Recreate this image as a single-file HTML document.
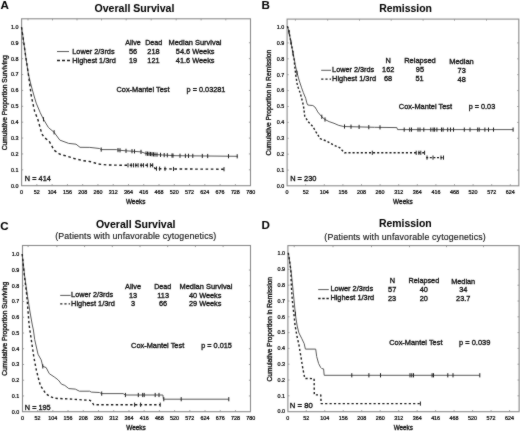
<!DOCTYPE html>
<html><head><meta charset="utf-8"><style>
html,body{margin:0;padding:0;background:#fff;}
svg{display:block;}
text{font-family:"Liberation Sans", sans-serif;fill:#161616;stroke:#161616;stroke-width:0.35px;}
text.b{stroke-width:0.05px;fill:#050505;stroke:#050505;}
text.s{stroke-width:0.15px;}
text.t{stroke-width:0.22px;fill:#000;stroke:#000;}
</style></head><body><div id="w">
<svg width="520" height="431" viewBox="0 0 520 431">
<defs><filter id="bl" filterUnits="userSpaceOnUse" x="0" y="0" width="520" height="431" color-interpolation-filters="sRGB"><feConvolveMatrix order="3" kernelMatrix="1 2 1 2 28 2 1 2 1" divisor="40" edgeMode="duplicate"/></filter></defs>
<rect width="520" height="431" fill="#fff"/>
<g filter="url(#bl)">
<rect x="21.60" y="18.80" width="228.90" height="166.90" fill="none" stroke="#8c8c8c" stroke-width="1.1"/>
<text x="18.40" y="187.55" font-size="5.4" text-anchor="end" class="t">0.0</text>
<text x="18.40" y="171.67" font-size="5.4" text-anchor="end" class="t">0.1</text>
<line x1="21.60" y1="169.82" x2="23.20" y2="169.82" stroke="#8c8c8c" stroke-width="0.8"/>
<line x1="250.50" y1="169.82" x2="248.90" y2="169.82" stroke="#8c8c8c" stroke-width="0.8"/>
<text x="18.40" y="155.79" font-size="5.4" text-anchor="end" class="t">0.2</text>
<line x1="21.60" y1="153.94" x2="23.20" y2="153.94" stroke="#8c8c8c" stroke-width="0.8"/>
<line x1="250.50" y1="153.94" x2="248.90" y2="153.94" stroke="#8c8c8c" stroke-width="0.8"/>
<text x="18.40" y="139.91" font-size="5.4" text-anchor="end" class="t">0.3</text>
<line x1="21.60" y1="138.06" x2="23.20" y2="138.06" stroke="#8c8c8c" stroke-width="0.8"/>
<line x1="250.50" y1="138.06" x2="248.90" y2="138.06" stroke="#8c8c8c" stroke-width="0.8"/>
<text x="18.40" y="124.03" font-size="5.4" text-anchor="end" class="t">0.4</text>
<line x1="21.60" y1="122.18" x2="23.20" y2="122.18" stroke="#8c8c8c" stroke-width="0.8"/>
<line x1="250.50" y1="122.18" x2="248.90" y2="122.18" stroke="#8c8c8c" stroke-width="0.8"/>
<text x="18.40" y="108.15" font-size="5.4" text-anchor="end" class="t">0.5</text>
<line x1="21.60" y1="106.30" x2="23.20" y2="106.30" stroke="#8c8c8c" stroke-width="0.8"/>
<line x1="250.50" y1="106.30" x2="248.90" y2="106.30" stroke="#8c8c8c" stroke-width="0.8"/>
<text x="18.40" y="92.27" font-size="5.4" text-anchor="end" class="t">0.6</text>
<line x1="21.60" y1="90.42" x2="23.20" y2="90.42" stroke="#8c8c8c" stroke-width="0.8"/>
<line x1="250.50" y1="90.42" x2="248.90" y2="90.42" stroke="#8c8c8c" stroke-width="0.8"/>
<text x="18.40" y="76.39" font-size="5.4" text-anchor="end" class="t">0.7</text>
<line x1="21.60" y1="74.54" x2="23.20" y2="74.54" stroke="#8c8c8c" stroke-width="0.8"/>
<line x1="250.50" y1="74.54" x2="248.90" y2="74.54" stroke="#8c8c8c" stroke-width="0.8"/>
<text x="18.40" y="60.51" font-size="5.4" text-anchor="end" class="t">0.8</text>
<line x1="21.60" y1="58.66" x2="23.20" y2="58.66" stroke="#8c8c8c" stroke-width="0.8"/>
<line x1="250.50" y1="58.66" x2="248.90" y2="58.66" stroke="#8c8c8c" stroke-width="0.8"/>
<text x="18.40" y="44.63" font-size="5.4" text-anchor="end" class="t">0.9</text>
<line x1="21.60" y1="42.78" x2="23.20" y2="42.78" stroke="#8c8c8c" stroke-width="0.8"/>
<line x1="250.50" y1="42.78" x2="248.90" y2="42.78" stroke="#8c8c8c" stroke-width="0.8"/>
<text x="18.40" y="28.75" font-size="5.4" text-anchor="end" class="t">1.0</text>
<text x="21.60" y="193.60" font-size="5.4" text-anchor="middle" class="t">0</text>
<text x="36.87" y="193.60" font-size="5.4" text-anchor="middle" class="t">52</text>
<line x1="36.87" y1="185.70" x2="36.87" y2="184.10" stroke="#8c8c8c" stroke-width="0.8"/>
<text x="52.14" y="193.60" font-size="5.4" text-anchor="middle" class="t">104</text>
<line x1="52.14" y1="185.70" x2="52.14" y2="184.10" stroke="#8c8c8c" stroke-width="0.8"/>
<text x="67.41" y="193.60" font-size="5.4" text-anchor="middle" class="t">156</text>
<line x1="67.41" y1="185.70" x2="67.41" y2="184.10" stroke="#8c8c8c" stroke-width="0.8"/>
<text x="82.68" y="193.60" font-size="5.4" text-anchor="middle" class="t">208</text>
<line x1="82.68" y1="185.70" x2="82.68" y2="184.10" stroke="#8c8c8c" stroke-width="0.8"/>
<text x="97.95" y="193.60" font-size="5.4" text-anchor="middle" class="t">260</text>
<line x1="97.95" y1="185.70" x2="97.95" y2="184.10" stroke="#8c8c8c" stroke-width="0.8"/>
<text x="113.22" y="193.60" font-size="5.4" text-anchor="middle" class="t">312</text>
<line x1="113.22" y1="185.70" x2="113.22" y2="184.10" stroke="#8c8c8c" stroke-width="0.8"/>
<text x="128.49" y="193.60" font-size="5.4" text-anchor="middle" class="t">364</text>
<line x1="128.49" y1="185.70" x2="128.49" y2="184.10" stroke="#8c8c8c" stroke-width="0.8"/>
<text x="143.76" y="193.60" font-size="5.4" text-anchor="middle" class="t">416</text>
<line x1="143.76" y1="185.70" x2="143.76" y2="184.10" stroke="#8c8c8c" stroke-width="0.8"/>
<text x="159.03" y="193.60" font-size="5.4" text-anchor="middle" class="t">468</text>
<line x1="159.03" y1="185.70" x2="159.03" y2="184.10" stroke="#8c8c8c" stroke-width="0.8"/>
<text x="174.30" y="193.60" font-size="5.4" text-anchor="middle" class="t">520</text>
<line x1="174.30" y1="185.70" x2="174.30" y2="184.10" stroke="#8c8c8c" stroke-width="0.8"/>
<text x="189.57" y="193.60" font-size="5.4" text-anchor="middle" class="t">572</text>
<line x1="189.57" y1="185.70" x2="189.57" y2="184.10" stroke="#8c8c8c" stroke-width="0.8"/>
<text x="204.84" y="193.60" font-size="5.4" text-anchor="middle" class="t">624</text>
<line x1="204.84" y1="185.70" x2="204.84" y2="184.10" stroke="#8c8c8c" stroke-width="0.8"/>
<text x="220.11" y="193.60" font-size="5.4" text-anchor="middle" class="t">676</text>
<line x1="220.11" y1="185.70" x2="220.11" y2="184.10" stroke="#8c8c8c" stroke-width="0.8"/>
<text x="235.38" y="193.60" font-size="5.4" text-anchor="middle" class="t">728</text>
<line x1="235.38" y1="185.70" x2="235.38" y2="184.10" stroke="#8c8c8c" stroke-width="0.8"/>
<text x="250.65" y="193.60" font-size="5.4" text-anchor="middle" class="t">780</text>
<line x1="28.00" y1="18.80" x2="28.00" y2="20.40" stroke="#8c8c8c" stroke-width="0.8"/>
<line x1="52.50" y1="18.80" x2="52.50" y2="20.40" stroke="#8c8c8c" stroke-width="0.8"/>
<line x1="77.00" y1="18.80" x2="77.00" y2="20.40" stroke="#8c8c8c" stroke-width="0.8"/>
<line x1="101.50" y1="18.80" x2="101.50" y2="20.40" stroke="#8c8c8c" stroke-width="0.8"/>
<line x1="126.20" y1="18.80" x2="126.20" y2="20.40" stroke="#8c8c8c" stroke-width="0.8"/>
<line x1="151.20" y1="18.80" x2="151.20" y2="20.40" stroke="#8c8c8c" stroke-width="0.8"/>
<line x1="176.20" y1="18.80" x2="176.20" y2="20.40" stroke="#8c8c8c" stroke-width="0.8"/>
<line x1="201.10" y1="18.80" x2="201.10" y2="20.40" stroke="#8c8c8c" stroke-width="0.8"/>
<line x1="225.80" y1="18.80" x2="225.80" y2="20.40" stroke="#8c8c8c" stroke-width="0.8"/>
<text x="0.60" y="9.00" font-size="11.6" font-weight="bold" class="b">A</text>
<text x="94.50" y="12.20" font-size="10.5" font-weight="bold" class="b" textLength="79.90" lengthAdjust="spacingAndGlyphs">Overall Survival</text>
<text transform="translate(6.50,150.20) rotate(-90)" x="0" y="0" font-size="7.0" textLength="94.80" lengthAdjust="spacingAndGlyphs">Cumulative Proportion Surviving</text>
<text x="125.90" y="204.10" font-size="7.0" textLength="19.50" lengthAdjust="spacingAndGlyphs">Weeks</text>
<text x="24.80" y="181.20" font-size="7.3" textLength="26.00" lengthAdjust="spacing">N = 414</text>
<line x1="57.00" y1="51.55" x2="69.00" y2="51.55" stroke="#5a5a5a" stroke-width="1"/>
<text x="72.30" y="54.20" font-size="7.35" textLength="42.30" lengthAdjust="spacingAndGlyphs">Lower 2/3rds</text>
<line x1="57.00" y1="60.50" x2="70.00" y2="60.50" stroke="#1e1e1e" stroke-width="1.3" stroke-dasharray="3 2"/>
<text x="72.30" y="62.80" font-size="7.35" textLength="43.50" lengthAdjust="spacingAndGlyphs">Highest 1/3rd</text>
<text x="125.30" y="44.50" font-size="7.35" textLength="15.40" lengthAdjust="spacingAndGlyphs">Alive</text>
<text x="145.20" y="44.50" font-size="7.35" textLength="17.10" lengthAdjust="spacingAndGlyphs">Dead</text>
<text x="168.50" y="44.50" font-size="7.35" textLength="53.00" lengthAdjust="spacingAndGlyphs">Median Survival</text>
<text x="133.00" y="53.70" font-size="7.35" text-anchor="middle">56</text>
<text x="153.50" y="53.70" font-size="7.35" text-anchor="middle">218</text>
<text x="195.20" y="53.70" font-size="7.35" text-anchor="middle">54.6 Weeks</text>
<text x="133.10" y="62.50" font-size="7.35" text-anchor="middle">19</text>
<text x="153.50" y="62.50" font-size="7.35" text-anchor="middle">121</text>
<text x="195.20" y="62.50" font-size="7.35" text-anchor="middle">41.6 Weeks</text>
<text x="116.50" y="91.50" font-size="7.35" textLength="53.00" lengthAdjust="spacingAndGlyphs">Cox-Mantel Test</text>
<text x="186.60" y="91.50" font-size="7.35" textLength="38.80" lengthAdjust="spacingAndGlyphs">p = 0.03281</text>
<polyline points="21.50,27.10 23.00,37.00 25.50,55.00 28.40,74.30 31.00,85.00 33.80,95.00 36.20,103.10 40.30,112.80 43.50,119.30 48.40,127.50 54.10,132.30 59.80,140.10 68.70,143.40 76.00,144.20 80.00,147.30 89.80,147.40 99.50,148.50 101.20,149.60 116.50,149.60 118.00,150.10 125.80,150.80 132.00,151.20 141.20,151.90 145.80,153.50 155.00,154.50 162.70,155.00 175.00,155.70 237.70,156.30" fill="none" stroke="#5a5a5a" stroke-width="1" stroke-linejoin="round"/>
<polyline points="21.50,27.10 23.00,37.00 25.50,55.00 28.40,74.30 31.40,96.60 34.60,111.20 37.80,119.30 41.90,134.00 44.30,137.50 49.20,141.20 54.10,150.20 59.80,154.20 67.10,156.30 75.20,158.80 83.30,160.70 89.80,161.50 95.00,163.00 97.90,164.00 107.30,165.00 125.80,165.30 153.50,165.30 155.00,168.60 175.00,169.00 224.60,169.20" fill="none" stroke="#1e1e1e" stroke-width="1.4" stroke-dasharray="2.6 2.6" stroke-linejoin="round"/>
<line x1="43.50" y1="117.20" x2="43.50" y2="121.40" stroke="#222" stroke-width="1.0"/>
<line x1="54.10" y1="130.20" x2="54.10" y2="134.40" stroke="#222" stroke-width="1.0"/>
<line x1="101.20" y1="147.50" x2="101.20" y2="151.70" stroke="#222" stroke-width="1.0"/>
<line x1="118.00" y1="148.00" x2="118.00" y2="152.20" stroke="#222" stroke-width="1.0"/>
<line x1="120.00" y1="148.18" x2="120.00" y2="152.38" stroke="#222" stroke-width="1.0"/>
<line x1="126.00" y1="148.71" x2="126.00" y2="152.91" stroke="#222" stroke-width="1.0"/>
<line x1="132.00" y1="149.10" x2="132.00" y2="153.30" stroke="#222" stroke-width="1.0"/>
<line x1="134.50" y1="149.29" x2="134.50" y2="153.49" stroke="#222" stroke-width="1.0"/>
<line x1="141.00" y1="149.78" x2="141.00" y2="153.98" stroke="#222" stroke-width="1.0"/>
<line x1="146.00" y1="151.42" x2="146.00" y2="155.62" stroke="#222" stroke-width="1.0"/>
<line x1="147.50" y1="151.58" x2="147.50" y2="155.78" stroke="#222" stroke-width="1.0"/>
<line x1="149.00" y1="151.75" x2="149.00" y2="155.95" stroke="#222" stroke-width="1.0"/>
<line x1="150.50" y1="151.91" x2="150.50" y2="156.11" stroke="#222" stroke-width="1.0"/>
<line x1="152.00" y1="152.07" x2="152.00" y2="156.27" stroke="#222" stroke-width="1.0"/>
<line x1="153.50" y1="152.24" x2="153.50" y2="156.44" stroke="#222" stroke-width="1.0"/>
<line x1="155.00" y1="152.40" x2="155.00" y2="156.60" stroke="#222" stroke-width="1.0"/>
<line x1="157.00" y1="152.53" x2="157.00" y2="156.73" stroke="#222" stroke-width="1.0"/>
<line x1="160.50" y1="152.76" x2="160.50" y2="156.96" stroke="#222" stroke-width="1.0"/>
<line x1="164.20" y1="152.99" x2="164.20" y2="157.19" stroke="#222" stroke-width="1.0"/>
<line x1="167.30" y1="153.16" x2="167.30" y2="157.36" stroke="#222" stroke-width="1.0"/>
<line x1="172.00" y1="153.43" x2="172.00" y2="157.63" stroke="#222" stroke-width="1.0"/>
<line x1="173.00" y1="153.49" x2="173.00" y2="157.69" stroke="#222" stroke-width="1.0"/>
<line x1="180.00" y1="153.65" x2="180.00" y2="157.85" stroke="#222" stroke-width="1.0"/>
<line x1="185.40" y1="153.70" x2="185.40" y2="157.90" stroke="#222" stroke-width="1.0"/>
<line x1="188.50" y1="153.73" x2="188.50" y2="157.93" stroke="#222" stroke-width="1.0"/>
<line x1="192.80" y1="153.77" x2="192.80" y2="157.97" stroke="#222" stroke-width="1.0"/>
<line x1="202.30" y1="153.86" x2="202.30" y2="158.06" stroke="#222" stroke-width="1.0"/>
<line x1="207.70" y1="153.91" x2="207.70" y2="158.11" stroke="#222" stroke-width="1.0"/>
<line x1="228.50" y1="154.11" x2="228.50" y2="158.31" stroke="#222" stroke-width="1.0"/>
<line x1="237.20" y1="154.20" x2="237.20" y2="158.40" stroke="#222" stroke-width="1.0"/>
<line x1="128.00" y1="163.20" x2="128.00" y2="167.40" stroke="#222" stroke-width="1.0"/>
<line x1="131.20" y1="163.20" x2="131.20" y2="167.40" stroke="#222" stroke-width="1.0"/>
<line x1="133.50" y1="163.20" x2="133.50" y2="167.40" stroke="#222" stroke-width="1.0"/>
<line x1="135.80" y1="163.20" x2="135.80" y2="167.40" stroke="#222" stroke-width="1.0"/>
<line x1="138.10" y1="163.20" x2="138.10" y2="167.40" stroke="#222" stroke-width="1.0"/>
<line x1="141.20" y1="163.20" x2="141.20" y2="167.40" stroke="#222" stroke-width="1.0"/>
<line x1="143.50" y1="163.20" x2="143.50" y2="167.40" stroke="#222" stroke-width="1.0"/>
<line x1="147.30" y1="163.20" x2="147.30" y2="167.40" stroke="#222" stroke-width="1.0"/>
<line x1="150.40" y1="163.20" x2="150.40" y2="167.40" stroke="#222" stroke-width="1.0"/>
<line x1="152.70" y1="163.20" x2="152.70" y2="167.40" stroke="#222" stroke-width="1.0"/>
<line x1="156.50" y1="166.53" x2="156.50" y2="170.73" stroke="#222" stroke-width="1.0"/>
<line x1="159.60" y1="166.59" x2="159.60" y2="170.79" stroke="#222" stroke-width="1.0"/>
<line x1="165.00" y1="166.70" x2="165.00" y2="170.90" stroke="#222" stroke-width="1.0"/>
<line x1="173.50" y1="166.87" x2="173.50" y2="171.07" stroke="#222" stroke-width="1.0"/>
<line x1="224.00" y1="167.10" x2="224.00" y2="171.30" stroke="#222" stroke-width="1.0"/>
<rect x="287.10" y="19.10" width="231.70" height="166.70" fill="none" stroke="#8c8c8c" stroke-width="1.1"/>
<text x="284.20" y="187.85" font-size="5.4" text-anchor="end" class="t">0.0</text>
<text x="284.20" y="171.95" font-size="5.4" text-anchor="end" class="t">0.1</text>
<line x1="287.10" y1="170.10" x2="288.70" y2="170.10" stroke="#8c8c8c" stroke-width="0.8"/>
<line x1="518.80" y1="170.10" x2="517.20" y2="170.10" stroke="#8c8c8c" stroke-width="0.8"/>
<text x="284.20" y="156.05" font-size="5.4" text-anchor="end" class="t">0.2</text>
<line x1="287.10" y1="154.20" x2="288.70" y2="154.20" stroke="#8c8c8c" stroke-width="0.8"/>
<line x1="518.80" y1="154.20" x2="517.20" y2="154.20" stroke="#8c8c8c" stroke-width="0.8"/>
<text x="284.20" y="140.15" font-size="5.4" text-anchor="end" class="t">0.3</text>
<line x1="287.10" y1="138.30" x2="288.70" y2="138.30" stroke="#8c8c8c" stroke-width="0.8"/>
<line x1="518.80" y1="138.30" x2="517.20" y2="138.30" stroke="#8c8c8c" stroke-width="0.8"/>
<text x="284.20" y="124.25" font-size="5.4" text-anchor="end" class="t">0.4</text>
<line x1="287.10" y1="122.40" x2="288.70" y2="122.40" stroke="#8c8c8c" stroke-width="0.8"/>
<line x1="518.80" y1="122.40" x2="517.20" y2="122.40" stroke="#8c8c8c" stroke-width="0.8"/>
<text x="284.20" y="108.35" font-size="5.4" text-anchor="end" class="t">0.5</text>
<line x1="287.10" y1="106.50" x2="288.70" y2="106.50" stroke="#8c8c8c" stroke-width="0.8"/>
<line x1="518.80" y1="106.50" x2="517.20" y2="106.50" stroke="#8c8c8c" stroke-width="0.8"/>
<text x="284.20" y="92.45" font-size="5.4" text-anchor="end" class="t">0.6</text>
<line x1="287.10" y1="90.60" x2="288.70" y2="90.60" stroke="#8c8c8c" stroke-width="0.8"/>
<line x1="518.80" y1="90.60" x2="517.20" y2="90.60" stroke="#8c8c8c" stroke-width="0.8"/>
<text x="284.20" y="76.55" font-size="5.4" text-anchor="end" class="t">0.7</text>
<line x1="287.10" y1="74.70" x2="288.70" y2="74.70" stroke="#8c8c8c" stroke-width="0.8"/>
<line x1="518.80" y1="74.70" x2="517.20" y2="74.70" stroke="#8c8c8c" stroke-width="0.8"/>
<text x="284.20" y="60.65" font-size="5.4" text-anchor="end" class="t">0.8</text>
<line x1="287.10" y1="58.80" x2="288.70" y2="58.80" stroke="#8c8c8c" stroke-width="0.8"/>
<line x1="518.80" y1="58.80" x2="517.20" y2="58.80" stroke="#8c8c8c" stroke-width="0.8"/>
<text x="284.20" y="44.75" font-size="5.4" text-anchor="end" class="t">0.9</text>
<line x1="287.10" y1="42.90" x2="288.70" y2="42.90" stroke="#8c8c8c" stroke-width="0.8"/>
<line x1="518.80" y1="42.90" x2="517.20" y2="42.90" stroke="#8c8c8c" stroke-width="0.8"/>
<text x="284.20" y="28.85" font-size="5.4" text-anchor="end" class="t">1.0</text>
<text x="287.10" y="193.70" font-size="5.4" text-anchor="middle" class="t">0</text>
<text x="305.70" y="193.70" font-size="5.4" text-anchor="middle" class="t">52</text>
<line x1="305.70" y1="185.80" x2="305.70" y2="184.20" stroke="#8c8c8c" stroke-width="0.8"/>
<text x="324.30" y="193.70" font-size="5.4" text-anchor="middle" class="t">104</text>
<line x1="324.30" y1="185.80" x2="324.30" y2="184.20" stroke="#8c8c8c" stroke-width="0.8"/>
<text x="342.90" y="193.70" font-size="5.4" text-anchor="middle" class="t">156</text>
<line x1="342.90" y1="185.80" x2="342.90" y2="184.20" stroke="#8c8c8c" stroke-width="0.8"/>
<text x="361.50" y="193.70" font-size="5.4" text-anchor="middle" class="t">208</text>
<line x1="361.50" y1="185.80" x2="361.50" y2="184.20" stroke="#8c8c8c" stroke-width="0.8"/>
<text x="380.10" y="193.70" font-size="5.4" text-anchor="middle" class="t">260</text>
<line x1="380.10" y1="185.80" x2="380.10" y2="184.20" stroke="#8c8c8c" stroke-width="0.8"/>
<text x="398.70" y="193.70" font-size="5.4" text-anchor="middle" class="t">312</text>
<line x1="398.70" y1="185.80" x2="398.70" y2="184.20" stroke="#8c8c8c" stroke-width="0.8"/>
<text x="417.30" y="193.70" font-size="5.4" text-anchor="middle" class="t">364</text>
<line x1="417.30" y1="185.80" x2="417.30" y2="184.20" stroke="#8c8c8c" stroke-width="0.8"/>
<text x="435.90" y="193.70" font-size="5.4" text-anchor="middle" class="t">416</text>
<line x1="435.90" y1="185.80" x2="435.90" y2="184.20" stroke="#8c8c8c" stroke-width="0.8"/>
<text x="454.50" y="193.70" font-size="5.4" text-anchor="middle" class="t">468</text>
<line x1="454.50" y1="185.80" x2="454.50" y2="184.20" stroke="#8c8c8c" stroke-width="0.8"/>
<text x="473.10" y="193.70" font-size="5.4" text-anchor="middle" class="t">520</text>
<line x1="473.10" y1="185.80" x2="473.10" y2="184.20" stroke="#8c8c8c" stroke-width="0.8"/>
<text x="491.70" y="193.70" font-size="5.4" text-anchor="middle" class="t">572</text>
<line x1="491.70" y1="185.80" x2="491.70" y2="184.20" stroke="#8c8c8c" stroke-width="0.8"/>
<text x="510.30" y="193.70" font-size="5.4" text-anchor="middle" class="t">624</text>
<line x1="510.30" y1="185.80" x2="510.30" y2="184.20" stroke="#8c8c8c" stroke-width="0.8"/>
<line x1="295.40" y1="19.10" x2="295.40" y2="20.70" stroke="#8c8c8c" stroke-width="0.8"/>
<line x1="327.70" y1="19.10" x2="327.70" y2="20.70" stroke="#8c8c8c" stroke-width="0.8"/>
<line x1="359.50" y1="19.10" x2="359.50" y2="20.70" stroke="#8c8c8c" stroke-width="0.8"/>
<line x1="391.20" y1="19.10" x2="391.20" y2="20.70" stroke="#8c8c8c" stroke-width="0.8"/>
<line x1="423.10" y1="19.10" x2="423.10" y2="20.70" stroke="#8c8c8c" stroke-width="0.8"/>
<line x1="454.50" y1="19.10" x2="454.50" y2="20.70" stroke="#8c8c8c" stroke-width="0.8"/>
<line x1="486.50" y1="19.10" x2="486.50" y2="20.70" stroke="#8c8c8c" stroke-width="0.8"/>
<text x="261.50" y="9.00" font-size="11.6" font-weight="bold" class="b">B</text>
<text x="379.20" y="12.00" font-size="10.5" font-weight="bold" class="b" textLength="52.80" lengthAdjust="spacingAndGlyphs">Remission</text>
<text transform="translate(271.30,155.60) rotate(-90)" x="0" y="0" font-size="7.0" textLength="105.80" lengthAdjust="spacingAndGlyphs">Cumulative Proportion in Remission</text>
<text x="393.10" y="203.70" font-size="7.0" textLength="19.60" lengthAdjust="spacingAndGlyphs">Weeks</text>
<text x="290.20" y="181.20" font-size="7.4" textLength="26.20" lengthAdjust="spacingAndGlyphs">N = 230</text>
<line x1="321.20" y1="70.30" x2="331.00" y2="70.30" stroke="#5a5a5a" stroke-width="1"/>
<text x="332.10" y="72.30" font-size="7.35" textLength="42.10" lengthAdjust="spacingAndGlyphs">Lower 2/3rds</text>
<line x1="321.20" y1="79.20" x2="331.00" y2="79.20" stroke="#1e1e1e" stroke-width="1.3" stroke-dasharray="2.2 2"/>
<text x="332.10" y="81.00" font-size="7.35" textLength="43.90" lengthAdjust="spacingAndGlyphs">Highest 1/3rd</text>
<text x="388.20" y="63.20" font-size="7.35" text-anchor="middle">N</text>
<text x="404.20" y="62.70" font-size="7.35" textLength="31.60" lengthAdjust="spacingAndGlyphs">Relapsed</text>
<text x="449.20" y="63.80" font-size="7.35" textLength="24.60" lengthAdjust="spacingAndGlyphs">Median</text>
<text x="388.20" y="71.50" font-size="7.35" text-anchor="middle">162</text>
<text x="419.90" y="72.00" font-size="7.35" text-anchor="middle">95</text>
<text x="461.70" y="72.50" font-size="7.35" text-anchor="middle">73</text>
<text x="388.10" y="80.80" font-size="7.35" text-anchor="middle">68</text>
<text x="419.60" y="81.20" font-size="7.35" text-anchor="middle">51</text>
<text x="461.70" y="81.60" font-size="7.35" text-anchor="middle">48</text>
<text x="398.80" y="109.00" font-size="7.35" textLength="53.30" lengthAdjust="spacingAndGlyphs">Cox-Mantel Test</text>
<text x="468.70" y="108.70" font-size="7.35" textLength="26.50" lengthAdjust="spacingAndGlyphs">p = 0.03</text>
<polyline points="287.40,26.30 288.70,30.40 289.70,35.70 291.30,44.00 292.30,49.30 293.40,55.50 294.40,59.70 295.20,64.60 297.00,72.80 299.30,80.90 301.60,87.80 303.30,92.50 305.70,98.30 306.80,102.90 307.60,104.90 309.10,105.20 312.80,105.50 314.90,107.00 316.70,109.90 317.70,111.90 321.80,116.80 325.00,119.50 329.10,121.60 334.00,123.30 338.80,125.40 343.70,126.50 374.50,127.30 396.90,127.60 397.50,129.60 513.10,129.60" fill="none" stroke="#5a5a5a" stroke-width="1" stroke-linejoin="round"/>
<polyline points="287.40,26.30 288.70,30.40 289.70,35.70 291.30,44.00 292.30,49.30 293.40,55.50 294.20,60.00 294.60,64.60 295.20,70.40 295.80,75.10 297.00,83.20 298.10,87.30 300.40,93.60 301.60,98.30 302.80,102.90 303.90,108.70 304.70,116.00 308.00,121.60 312.80,126.50 316.10,132.20 320.20,138.70 326.60,141.10 333.90,145.20 339.60,147.60 344.50,152.80 425.40,152.80" fill="none" stroke="#1e1e1e" stroke-width="1.4" stroke-dasharray="2.1 2.0" stroke-linejoin="round"/>
<polyline points="426.20,157.60 443.80,157.60" fill="none" stroke="#1e1e1e" stroke-width="1.2" stroke-dasharray="2 1.6" stroke-linejoin="round"/>
<line x1="289.00" y1="29.89" x2="289.00" y2="34.09" stroke="#222" stroke-width="1.0"/>
<line x1="291.00" y1="40.34" x2="291.00" y2="44.54" stroke="#222" stroke-width="1.0"/>
<line x1="293.00" y1="51.15" x2="293.00" y2="55.35" stroke="#222" stroke-width="1.0"/>
<line x1="297.00" y1="70.70" x2="297.00" y2="74.90" stroke="#222" stroke-width="1.0"/>
<line x1="321.80" y1="114.70" x2="321.80" y2="118.90" stroke="#222" stroke-width="1.0"/>
<line x1="325.00" y1="117.40" x2="325.00" y2="121.60" stroke="#222" stroke-width="1.0"/>
<line x1="344.50" y1="124.42" x2="344.50" y2="128.62" stroke="#222" stroke-width="1.0"/>
<line x1="351.00" y1="124.59" x2="351.00" y2="128.79" stroke="#222" stroke-width="1.0"/>
<line x1="359.10" y1="124.80" x2="359.10" y2="129.00" stroke="#222" stroke-width="1.0"/>
<line x1="368.80" y1="125.05" x2="368.80" y2="129.25" stroke="#222" stroke-width="1.0"/>
<line x1="380.00" y1="125.27" x2="380.00" y2="129.47" stroke="#222" stroke-width="1.0"/>
<line x1="404.20" y1="127.50" x2="404.20" y2="131.70" stroke="#222" stroke-width="1.0"/>
<line x1="409.70" y1="127.50" x2="409.70" y2="131.70" stroke="#222" stroke-width="1.0"/>
<line x1="411.50" y1="127.50" x2="411.50" y2="131.70" stroke="#222" stroke-width="1.0"/>
<line x1="418.00" y1="127.50" x2="418.00" y2="131.70" stroke="#222" stroke-width="1.0"/>
<line x1="420.00" y1="127.50" x2="420.00" y2="131.70" stroke="#222" stroke-width="1.0"/>
<line x1="423.80" y1="127.50" x2="423.80" y2="131.70" stroke="#222" stroke-width="1.0"/>
<line x1="430.80" y1="127.50" x2="430.80" y2="131.70" stroke="#222" stroke-width="1.0"/>
<line x1="433.10" y1="127.50" x2="433.10" y2="131.70" stroke="#222" stroke-width="1.0"/>
<line x1="434.60" y1="127.50" x2="434.60" y2="131.70" stroke="#222" stroke-width="1.0"/>
<line x1="436.90" y1="127.50" x2="436.90" y2="131.70" stroke="#222" stroke-width="1.0"/>
<line x1="441.50" y1="127.50" x2="441.50" y2="131.70" stroke="#222" stroke-width="1.0"/>
<line x1="443.10" y1="127.50" x2="443.10" y2="131.70" stroke="#222" stroke-width="1.0"/>
<line x1="447.70" y1="127.50" x2="447.70" y2="131.70" stroke="#222" stroke-width="1.0"/>
<line x1="450.50" y1="127.50" x2="450.50" y2="131.70" stroke="#222" stroke-width="1.0"/>
<line x1="453.50" y1="127.50" x2="453.50" y2="131.70" stroke="#222" stroke-width="1.0"/>
<line x1="464.30" y1="127.50" x2="464.30" y2="131.70" stroke="#222" stroke-width="1.0"/>
<line x1="470.00" y1="127.50" x2="470.00" y2="131.70" stroke="#222" stroke-width="1.0"/>
<line x1="477.70" y1="127.50" x2="477.70" y2="131.70" stroke="#222" stroke-width="1.0"/>
<line x1="479.20" y1="127.50" x2="479.20" y2="131.70" stroke="#222" stroke-width="1.0"/>
<line x1="484.90" y1="127.50" x2="484.90" y2="131.70" stroke="#222" stroke-width="1.0"/>
<line x1="488.50" y1="127.50" x2="488.50" y2="131.70" stroke="#222" stroke-width="1.0"/>
<line x1="493.50" y1="127.50" x2="493.50" y2="131.70" stroke="#222" stroke-width="1.0"/>
<line x1="513.10" y1="127.50" x2="513.10" y2="131.70" stroke="#222" stroke-width="1.0"/>
<line x1="372.30" y1="150.70" x2="372.30" y2="154.90" stroke="#222" stroke-width="1.0"/>
<line x1="416.20" y1="150.70" x2="416.20" y2="154.90" stroke="#222" stroke-width="1.0"/>
<line x1="418.90" y1="150.70" x2="418.90" y2="154.90" stroke="#222" stroke-width="1.0"/>
<line x1="420.80" y1="150.70" x2="420.80" y2="154.90" stroke="#222" stroke-width="1.0"/>
<line x1="424.60" y1="150.70" x2="424.60" y2="154.90" stroke="#222" stroke-width="1.0"/>
<line x1="427.00" y1="155.50" x2="427.00" y2="159.70" stroke="#222" stroke-width="1.0"/>
<line x1="433.00" y1="155.50" x2="433.00" y2="159.70" stroke="#222" stroke-width="1.0"/>
<line x1="441.00" y1="155.50" x2="441.00" y2="159.70" stroke="#222" stroke-width="1.0"/>
<line x1="443.50" y1="155.50" x2="443.50" y2="159.70" stroke="#222" stroke-width="1.0"/>
<rect x="22.50" y="245.50" width="228.00" height="166.20" fill="none" stroke="#8c8c8c" stroke-width="1.1"/>
<text x="19.20" y="413.55" font-size="5.4" text-anchor="end" class="t">0.0</text>
<text x="19.20" y="397.81" font-size="5.4" text-anchor="end" class="t">0.1</text>
<line x1="22.50" y1="395.96" x2="24.10" y2="395.96" stroke="#8c8c8c" stroke-width="0.8"/>
<line x1="250.50" y1="395.96" x2="248.90" y2="395.96" stroke="#8c8c8c" stroke-width="0.8"/>
<text x="19.20" y="382.07" font-size="5.4" text-anchor="end" class="t">0.2</text>
<line x1="22.50" y1="380.22" x2="24.10" y2="380.22" stroke="#8c8c8c" stroke-width="0.8"/>
<line x1="250.50" y1="380.22" x2="248.90" y2="380.22" stroke="#8c8c8c" stroke-width="0.8"/>
<text x="19.20" y="366.33" font-size="5.4" text-anchor="end" class="t">0.3</text>
<line x1="22.50" y1="364.48" x2="24.10" y2="364.48" stroke="#8c8c8c" stroke-width="0.8"/>
<line x1="250.50" y1="364.48" x2="248.90" y2="364.48" stroke="#8c8c8c" stroke-width="0.8"/>
<text x="19.20" y="350.59" font-size="5.4" text-anchor="end" class="t">0.4</text>
<line x1="22.50" y1="348.74" x2="24.10" y2="348.74" stroke="#8c8c8c" stroke-width="0.8"/>
<line x1="250.50" y1="348.74" x2="248.90" y2="348.74" stroke="#8c8c8c" stroke-width="0.8"/>
<text x="19.20" y="334.85" font-size="5.4" text-anchor="end" class="t">0.5</text>
<line x1="22.50" y1="333.00" x2="24.10" y2="333.00" stroke="#8c8c8c" stroke-width="0.8"/>
<line x1="250.50" y1="333.00" x2="248.90" y2="333.00" stroke="#8c8c8c" stroke-width="0.8"/>
<text x="19.20" y="319.11" font-size="5.4" text-anchor="end" class="t">0.6</text>
<line x1="22.50" y1="317.26" x2="24.10" y2="317.26" stroke="#8c8c8c" stroke-width="0.8"/>
<line x1="250.50" y1="317.26" x2="248.90" y2="317.26" stroke="#8c8c8c" stroke-width="0.8"/>
<text x="19.20" y="303.37" font-size="5.4" text-anchor="end" class="t">0.7</text>
<line x1="22.50" y1="301.52" x2="24.10" y2="301.52" stroke="#8c8c8c" stroke-width="0.8"/>
<line x1="250.50" y1="301.52" x2="248.90" y2="301.52" stroke="#8c8c8c" stroke-width="0.8"/>
<text x="19.20" y="287.63" font-size="5.4" text-anchor="end" class="t">0.8</text>
<line x1="22.50" y1="285.78" x2="24.10" y2="285.78" stroke="#8c8c8c" stroke-width="0.8"/>
<line x1="250.50" y1="285.78" x2="248.90" y2="285.78" stroke="#8c8c8c" stroke-width="0.8"/>
<text x="19.20" y="271.89" font-size="5.4" text-anchor="end" class="t">0.9</text>
<line x1="22.50" y1="270.04" x2="24.10" y2="270.04" stroke="#8c8c8c" stroke-width="0.8"/>
<line x1="250.50" y1="270.04" x2="248.90" y2="270.04" stroke="#8c8c8c" stroke-width="0.8"/>
<text x="19.20" y="256.15" font-size="5.4" text-anchor="end" class="t">1.0</text>
<text x="22.40" y="419.80" font-size="5.4" text-anchor="middle" class="t">0</text>
<text x="37.62" y="419.80" font-size="5.4" text-anchor="middle" class="t">52</text>
<line x1="37.62" y1="411.70" x2="37.62" y2="410.10" stroke="#8c8c8c" stroke-width="0.8"/>
<text x="52.84" y="419.80" font-size="5.4" text-anchor="middle" class="t">104</text>
<line x1="52.84" y1="411.70" x2="52.84" y2="410.10" stroke="#8c8c8c" stroke-width="0.8"/>
<text x="68.06" y="419.80" font-size="5.4" text-anchor="middle" class="t">156</text>
<line x1="68.06" y1="411.70" x2="68.06" y2="410.10" stroke="#8c8c8c" stroke-width="0.8"/>
<text x="83.28" y="419.80" font-size="5.4" text-anchor="middle" class="t">208</text>
<line x1="83.28" y1="411.70" x2="83.28" y2="410.10" stroke="#8c8c8c" stroke-width="0.8"/>
<text x="98.50" y="419.80" font-size="5.4" text-anchor="middle" class="t">260</text>
<line x1="98.50" y1="411.70" x2="98.50" y2="410.10" stroke="#8c8c8c" stroke-width="0.8"/>
<text x="113.72" y="419.80" font-size="5.4" text-anchor="middle" class="t">312</text>
<line x1="113.72" y1="411.70" x2="113.72" y2="410.10" stroke="#8c8c8c" stroke-width="0.8"/>
<text x="128.94" y="419.80" font-size="5.4" text-anchor="middle" class="t">364</text>
<line x1="128.94" y1="411.70" x2="128.94" y2="410.10" stroke="#8c8c8c" stroke-width="0.8"/>
<text x="144.16" y="419.80" font-size="5.4" text-anchor="middle" class="t">416</text>
<line x1="144.16" y1="411.70" x2="144.16" y2="410.10" stroke="#8c8c8c" stroke-width="0.8"/>
<text x="159.38" y="419.80" font-size="5.4" text-anchor="middle" class="t">468</text>
<line x1="159.38" y1="411.70" x2="159.38" y2="410.10" stroke="#8c8c8c" stroke-width="0.8"/>
<text x="174.60" y="419.80" font-size="5.4" text-anchor="middle" class="t">520</text>
<line x1="174.60" y1="411.70" x2="174.60" y2="410.10" stroke="#8c8c8c" stroke-width="0.8"/>
<text x="189.82" y="419.80" font-size="5.4" text-anchor="middle" class="t">572</text>
<line x1="189.82" y1="411.70" x2="189.82" y2="410.10" stroke="#8c8c8c" stroke-width="0.8"/>
<text x="205.04" y="419.80" font-size="5.4" text-anchor="middle" class="t">624</text>
<line x1="205.04" y1="411.70" x2="205.04" y2="410.10" stroke="#8c8c8c" stroke-width="0.8"/>
<text x="220.26" y="419.80" font-size="5.4" text-anchor="middle" class="t">676</text>
<line x1="220.26" y1="411.70" x2="220.26" y2="410.10" stroke="#8c8c8c" stroke-width="0.8"/>
<text x="235.48" y="419.80" font-size="5.4" text-anchor="middle" class="t">728</text>
<line x1="235.48" y1="411.70" x2="235.48" y2="410.10" stroke="#8c8c8c" stroke-width="0.8"/>
<text x="250.70" y="419.80" font-size="5.4" text-anchor="middle" class="t">780</text>
<line x1="28.10" y1="245.50" x2="28.10" y2="247.10" stroke="#8c8c8c" stroke-width="0.8"/>
<line x1="56.90" y1="245.50" x2="56.90" y2="247.10" stroke="#8c8c8c" stroke-width="0.8"/>
<line x1="84.60" y1="245.50" x2="84.60" y2="247.10" stroke="#8c8c8c" stroke-width="0.8"/>
<line x1="112.30" y1="245.50" x2="112.30" y2="247.10" stroke="#8c8c8c" stroke-width="0.8"/>
<line x1="140.00" y1="245.50" x2="140.00" y2="247.10" stroke="#8c8c8c" stroke-width="0.8"/>
<line x1="167.70" y1="245.50" x2="167.70" y2="247.10" stroke="#8c8c8c" stroke-width="0.8"/>
<line x1="195.40" y1="245.50" x2="195.40" y2="247.10" stroke="#8c8c8c" stroke-width="0.8"/>
<line x1="223.10" y1="245.50" x2="223.10" y2="247.10" stroke="#8c8c8c" stroke-width="0.8"/>
<text x="0.20" y="230.00" font-size="11.6" font-weight="bold" class="b">C</text>
<text x="95.90" y="227.50" font-size="10.5" font-weight="bold" class="b" textLength="79.60" lengthAdjust="spacingAndGlyphs">Overall Survival</text>
<text x="55.20" y="239.20" font-size="8.8" textLength="161.00" lengthAdjust="spacing" class="s">(Patients with unfavorable cytogenetics)</text>
<text transform="translate(7.10,375.80) rotate(-90)" x="0" y="0" font-size="7.0" textLength="94.00" lengthAdjust="spacingAndGlyphs">Cumulative Proportion Surviving</text>
<text x="126.20" y="429.80" font-size="7.0" textLength="19.60" lengthAdjust="spacingAndGlyphs">Weeks</text>
<text x="24.80" y="409.60" font-size="7.4" textLength="25.90" lengthAdjust="spacingAndGlyphs">N = 195</text>
<line x1="60.20" y1="295.40" x2="70.60" y2="295.40" stroke="#5a5a5a" stroke-width="1"/>
<text x="71.10" y="297.40" font-size="7.35" textLength="42.10" lengthAdjust="spacingAndGlyphs">Lower 2/3rds</text>
<line x1="60.20" y1="303.80" x2="70.00" y2="303.80" stroke="#1e1e1e" stroke-width="1.3" stroke-dasharray="2.2 2"/>
<text x="71.10" y="305.70" font-size="7.35" textLength="43.80" lengthAdjust="spacingAndGlyphs">Highest 1/3rd</text>
<text x="125.10" y="288.80" font-size="7.35" textLength="15.90" lengthAdjust="spacingAndGlyphs">Alive</text>
<text x="154.20" y="288.80" font-size="7.35" textLength="17.00" lengthAdjust="spacingAndGlyphs">Dead</text>
<text x="179.50" y="288.80" font-size="7.35" textLength="52.90" lengthAdjust="spacingAndGlyphs">Median Survival</text>
<text x="133.10" y="297.90" font-size="7.35" text-anchor="middle">13</text>
<text x="163.20" y="297.90" font-size="7.35" text-anchor="middle">113</text>
<text x="205.20" y="297.90" font-size="7.35" text-anchor="middle">40 Weeks</text>
<text x="133.00" y="305.80" font-size="7.35" text-anchor="middle">3</text>
<text x="163.00" y="305.80" font-size="7.35" text-anchor="middle">66</text>
<text x="205.20" y="305.80" font-size="7.35" text-anchor="middle">29 Weeks</text>
<text x="131.10" y="347.70" font-size="7.35" textLength="53.10" lengthAdjust="spacingAndGlyphs">Cox-Mantel Test</text>
<text x="201.20" y="347.70" font-size="7.35" textLength="30.70" lengthAdjust="spacingAndGlyphs">p = 0.015</text>
<polyline points="22.20,254.00 24.50,275.00 27.50,296.30 30.00,312.00 32.30,325.00 33.40,330.00 34.70,339.60 38.00,354.20 41.20,359.90 42.80,366.40 46.10,367.50 49.30,373.70 54.20,376.90 58.30,380.00 61.50,384.20 64.80,385.40 68.80,388.60 75.30,389.10 79.40,391.20 89.60,391.20 91.30,392.10 99.40,392.50 101.70,393.60 123.10,393.60 125.40,395.00 162.90,395.00 163.40,399.20 228.80,399.20" fill="none" stroke="#5a5a5a" stroke-width="1" stroke-linejoin="round"/>
<polyline points="22.20,254.00 24.30,275.00 26.90,296.30 29.10,325.00 31.50,341.20 33.90,357.50 36.40,370.40 38.60,379.00 40.50,385.80 43.70,390.50 45.80,393.80 50.00,396.50 55.40,398.30 72.70,399.20 90.20,400.40 92.50,403.10 93.70,404.70 160.40,404.70" fill="none" stroke="#1e1e1e" stroke-width="1.4" stroke-dasharray="2.4 2.4" stroke-linejoin="round"/>
<line x1="42.80" y1="364.30" x2="42.80" y2="368.50" stroke="#222" stroke-width="1.0"/>
<line x1="101.70" y1="391.50" x2="101.70" y2="395.70" stroke="#222" stroke-width="1.0"/>
<line x1="125.40" y1="392.90" x2="125.40" y2="397.10" stroke="#222" stroke-width="1.0"/>
<line x1="138.30" y1="392.90" x2="138.30" y2="397.10" stroke="#222" stroke-width="1.0"/>
<line x1="142.70" y1="392.90" x2="142.70" y2="397.10" stroke="#222" stroke-width="1.0"/>
<line x1="144.20" y1="392.90" x2="144.20" y2="397.10" stroke="#222" stroke-width="1.0"/>
<line x1="155.20" y1="392.90" x2="155.20" y2="397.10" stroke="#222" stroke-width="1.0"/>
<line x1="159.00" y1="392.90" x2="159.00" y2="397.10" stroke="#222" stroke-width="1.0"/>
<line x1="163.80" y1="397.10" x2="163.80" y2="401.30" stroke="#222" stroke-width="1.0"/>
<line x1="181.20" y1="397.10" x2="181.20" y2="401.30" stroke="#222" stroke-width="1.0"/>
<line x1="228.80" y1="397.10" x2="228.80" y2="401.30" stroke="#222" stroke-width="1.0"/>
<line x1="134.60" y1="402.60" x2="134.60" y2="406.80" stroke="#222" stroke-width="1.0"/>
<line x1="140.60" y1="402.60" x2="140.60" y2="406.80" stroke="#222" stroke-width="1.0"/>
<line x1="160.20" y1="402.60" x2="160.20" y2="406.80" stroke="#222" stroke-width="1.0"/>
<rect x="287.90" y="245.60" width="231.20" height="166.10" fill="none" stroke="#8c8c8c" stroke-width="1.1"/>
<text x="285.10" y="413.45" font-size="5.4" text-anchor="end" class="t">0.0</text>
<text x="285.10" y="397.65" font-size="5.4" text-anchor="end" class="t">0.1</text>
<line x1="287.90" y1="395.80" x2="289.50" y2="395.80" stroke="#8c8c8c" stroke-width="0.8"/>
<line x1="519.10" y1="395.80" x2="517.50" y2="395.80" stroke="#8c8c8c" stroke-width="0.8"/>
<text x="285.10" y="381.85" font-size="5.4" text-anchor="end" class="t">0.2</text>
<line x1="287.90" y1="380.00" x2="289.50" y2="380.00" stroke="#8c8c8c" stroke-width="0.8"/>
<line x1="519.10" y1="380.00" x2="517.50" y2="380.00" stroke="#8c8c8c" stroke-width="0.8"/>
<text x="285.10" y="366.05" font-size="5.4" text-anchor="end" class="t">0.3</text>
<line x1="287.90" y1="364.20" x2="289.50" y2="364.20" stroke="#8c8c8c" stroke-width="0.8"/>
<line x1="519.10" y1="364.20" x2="517.50" y2="364.20" stroke="#8c8c8c" stroke-width="0.8"/>
<text x="285.10" y="350.25" font-size="5.4" text-anchor="end" class="t">0.4</text>
<line x1="287.90" y1="348.40" x2="289.50" y2="348.40" stroke="#8c8c8c" stroke-width="0.8"/>
<line x1="519.10" y1="348.40" x2="517.50" y2="348.40" stroke="#8c8c8c" stroke-width="0.8"/>
<text x="285.10" y="334.45" font-size="5.4" text-anchor="end" class="t">0.5</text>
<line x1="287.90" y1="332.60" x2="289.50" y2="332.60" stroke="#8c8c8c" stroke-width="0.8"/>
<line x1="519.10" y1="332.60" x2="517.50" y2="332.60" stroke="#8c8c8c" stroke-width="0.8"/>
<text x="285.10" y="318.65" font-size="5.4" text-anchor="end" class="t">0.6</text>
<line x1="287.90" y1="316.80" x2="289.50" y2="316.80" stroke="#8c8c8c" stroke-width="0.8"/>
<line x1="519.10" y1="316.80" x2="517.50" y2="316.80" stroke="#8c8c8c" stroke-width="0.8"/>
<text x="285.10" y="302.85" font-size="5.4" text-anchor="end" class="t">0.7</text>
<line x1="287.90" y1="301.00" x2="289.50" y2="301.00" stroke="#8c8c8c" stroke-width="0.8"/>
<line x1="519.10" y1="301.00" x2="517.50" y2="301.00" stroke="#8c8c8c" stroke-width="0.8"/>
<text x="285.10" y="287.05" font-size="5.4" text-anchor="end" class="t">0.8</text>
<line x1="287.90" y1="285.20" x2="289.50" y2="285.20" stroke="#8c8c8c" stroke-width="0.8"/>
<line x1="519.10" y1="285.20" x2="517.50" y2="285.20" stroke="#8c8c8c" stroke-width="0.8"/>
<text x="285.10" y="271.25" font-size="5.4" text-anchor="end" class="t">0.9</text>
<line x1="287.90" y1="269.40" x2="289.50" y2="269.40" stroke="#8c8c8c" stroke-width="0.8"/>
<line x1="519.10" y1="269.40" x2="517.50" y2="269.40" stroke="#8c8c8c" stroke-width="0.8"/>
<text x="285.10" y="255.45" font-size="5.4" text-anchor="end" class="t">1.0</text>
<text x="287.80" y="419.80" font-size="5.4" text-anchor="middle" class="t">0</text>
<text x="306.28" y="419.80" font-size="5.4" text-anchor="middle" class="t">52</text>
<line x1="306.28" y1="411.70" x2="306.28" y2="410.10" stroke="#8c8c8c" stroke-width="0.8"/>
<text x="324.76" y="419.80" font-size="5.4" text-anchor="middle" class="t">104</text>
<line x1="324.76" y1="411.70" x2="324.76" y2="410.10" stroke="#8c8c8c" stroke-width="0.8"/>
<text x="343.24" y="419.80" font-size="5.4" text-anchor="middle" class="t">156</text>
<line x1="343.24" y1="411.70" x2="343.24" y2="410.10" stroke="#8c8c8c" stroke-width="0.8"/>
<text x="361.72" y="419.80" font-size="5.4" text-anchor="middle" class="t">208</text>
<line x1="361.72" y1="411.70" x2="361.72" y2="410.10" stroke="#8c8c8c" stroke-width="0.8"/>
<text x="380.20" y="419.80" font-size="5.4" text-anchor="middle" class="t">260</text>
<line x1="380.20" y1="411.70" x2="380.20" y2="410.10" stroke="#8c8c8c" stroke-width="0.8"/>
<text x="398.68" y="419.80" font-size="5.4" text-anchor="middle" class="t">312</text>
<line x1="398.68" y1="411.70" x2="398.68" y2="410.10" stroke="#8c8c8c" stroke-width="0.8"/>
<text x="417.16" y="419.80" font-size="5.4" text-anchor="middle" class="t">364</text>
<line x1="417.16" y1="411.70" x2="417.16" y2="410.10" stroke="#8c8c8c" stroke-width="0.8"/>
<text x="435.64" y="419.80" font-size="5.4" text-anchor="middle" class="t">416</text>
<line x1="435.64" y1="411.70" x2="435.64" y2="410.10" stroke="#8c8c8c" stroke-width="0.8"/>
<text x="454.12" y="419.80" font-size="5.4" text-anchor="middle" class="t">468</text>
<line x1="454.12" y1="411.70" x2="454.12" y2="410.10" stroke="#8c8c8c" stroke-width="0.8"/>
<text x="472.60" y="419.80" font-size="5.4" text-anchor="middle" class="t">520</text>
<line x1="472.60" y1="411.70" x2="472.60" y2="410.10" stroke="#8c8c8c" stroke-width="0.8"/>
<text x="491.08" y="419.80" font-size="5.4" text-anchor="middle" class="t">572</text>
<line x1="491.08" y1="411.70" x2="491.08" y2="410.10" stroke="#8c8c8c" stroke-width="0.8"/>
<text x="509.56" y="419.80" font-size="5.4" text-anchor="middle" class="t">624</text>
<line x1="509.56" y1="411.70" x2="509.56" y2="410.10" stroke="#8c8c8c" stroke-width="0.8"/>
<line x1="294.20" y1="245.60" x2="294.20" y2="247.20" stroke="#8c8c8c" stroke-width="0.8"/>
<line x1="333.00" y1="245.60" x2="333.00" y2="247.20" stroke="#8c8c8c" stroke-width="0.8"/>
<line x1="371.50" y1="245.60" x2="371.50" y2="247.20" stroke="#8c8c8c" stroke-width="0.8"/>
<line x1="409.50" y1="245.60" x2="409.50" y2="247.20" stroke="#8c8c8c" stroke-width="0.8"/>
<line x1="446.50" y1="245.60" x2="446.50" y2="247.20" stroke="#8c8c8c" stroke-width="0.8"/>
<line x1="483.50" y1="245.60" x2="483.50" y2="247.20" stroke="#8c8c8c" stroke-width="0.8"/>
<text x="261.50" y="229.10" font-size="11.6" font-weight="bold" class="b">D</text>
<text x="378.90" y="227.30" font-size="10.5" font-weight="bold" class="b" textLength="52.80" lengthAdjust="spacingAndGlyphs">Remission</text>
<text x="324.30" y="239.50" font-size="8.8" textLength="161.40" lengthAdjust="spacing" class="s">(Patients with unfavorable cytogenetics)</text>
<text transform="translate(272.00,381.40) rotate(-90)" x="0" y="0" font-size="6.8" textLength="104.40" lengthAdjust="spacingAndGlyphs">Cumulative Proportion in Remission</text>
<text x="393.70" y="429.80" font-size="7.0" textLength="19.20" lengthAdjust="spacingAndGlyphs">Weeks</text>
<text x="289.80" y="407.50" font-size="7.35" textLength="22.90" lengthAdjust="spacingAndGlyphs">N = 80</text>
<line x1="318.20" y1="289.60" x2="328.80" y2="289.60" stroke="#5a5a5a" stroke-width="1"/>
<text x="330.40" y="291.20" font-size="7.35" textLength="42.80" lengthAdjust="spacingAndGlyphs">Lower 2/3rds</text>
<line x1="318.20" y1="298.50" x2="329.00" y2="298.50" stroke="#1e1e1e" stroke-width="1.3" stroke-dasharray="2.4 1.7"/>
<text x="330.40" y="299.60" font-size="7.35" textLength="43.80" lengthAdjust="spacingAndGlyphs">Highest 1/3rd</text>
<text x="392.30" y="283.40" font-size="7.35" text-anchor="middle">N</text>
<text x="408.50" y="283.10" font-size="7.35" textLength="30.70" lengthAdjust="spacingAndGlyphs">Relapsed</text>
<text x="451.20" y="283.50" font-size="7.35" textLength="24.00" lengthAdjust="spacingAndGlyphs">Median</text>
<text x="392.20" y="291.50" font-size="7.35" text-anchor="middle">57</text>
<text x="423.80" y="291.50" font-size="7.35" text-anchor="middle">40</text>
<text x="463.30" y="291.50" font-size="7.35" text-anchor="middle">34</text>
<text x="392.00" y="300.80" font-size="7.35" text-anchor="middle">23</text>
<text x="423.80" y="300.80" font-size="7.35" text-anchor="middle">20</text>
<text x="463.20" y="300.80" font-size="7.35" text-anchor="middle">23.7</text>
<text x="389.20" y="345.20" font-size="7.35" textLength="53.30" lengthAdjust="spacingAndGlyphs">Cox-Mantel Test</text>
<text x="459.00" y="345.00" font-size="7.35" textLength="31.40" lengthAdjust="spacingAndGlyphs">p = 0.039</text>
<polyline points="288.30,252.80 289.60,261.10 290.50,267.60 291.40,274.10 292.30,282.50 293.30,292.70 294.20,302.00 295.10,311.20 295.90,318.00 297.20,326.00 298.90,332.90 301.90,338.80 304.20,343.70 305.40,349.10 315.70,349.10 316.70,356.60 318.60,363.50 320.60,367.40 321.80,368.60 323.60,368.90 324.20,375.30 479.80,375.30" fill="none" stroke="#5a5a5a" stroke-width="1" stroke-linejoin="round"/>
<polyline points="288.30,252.80 289.60,261.10 290.50,267.60 290.90,272.30 291.40,287.10 292.30,300.10 293.30,309.40 294.20,316.80 295.00,325.00 296.90,335.80 298.90,344.70 300.90,356.60 302.80,368.40 304.80,378.50 314.10,378.60 314.30,394.80 320.80,395.00 321.10,403.60 420.40,403.60" fill="none" stroke="#1e1e1e" stroke-width="1.4" stroke-dasharray="2.2 2.2" stroke-linejoin="round"/>
<line x1="295.40" y1="311.65" x2="295.40" y2="315.85" stroke="#222" stroke-width="1.0"/>
<line x1="351.80" y1="373.20" x2="351.80" y2="377.40" stroke="#222" stroke-width="1.0"/>
<line x1="368.90" y1="373.20" x2="368.90" y2="377.40" stroke="#222" stroke-width="1.0"/>
<line x1="380.50" y1="373.20" x2="380.50" y2="377.40" stroke="#222" stroke-width="1.0"/>
<line x1="410.00" y1="373.20" x2="410.00" y2="377.40" stroke="#222" stroke-width="1.0"/>
<line x1="411.80" y1="373.20" x2="411.80" y2="377.40" stroke="#222" stroke-width="1.0"/>
<line x1="413.50" y1="373.20" x2="413.50" y2="377.40" stroke="#222" stroke-width="1.0"/>
<line x1="432.10" y1="373.20" x2="432.10" y2="377.40" stroke="#222" stroke-width="1.0"/>
<line x1="433.50" y1="373.20" x2="433.50" y2="377.40" stroke="#222" stroke-width="1.0"/>
<line x1="447.80" y1="373.20" x2="447.80" y2="377.40" stroke="#222" stroke-width="1.0"/>
<line x1="453.00" y1="373.20" x2="453.00" y2="377.40" stroke="#222" stroke-width="1.0"/>
<line x1="479.80" y1="373.20" x2="479.80" y2="377.40" stroke="#222" stroke-width="1.0"/>
<line x1="420.40" y1="401.50" x2="420.40" y2="405.70" stroke="#222" stroke-width="1.0"/>
</g>
</svg></div>
</body></html>
